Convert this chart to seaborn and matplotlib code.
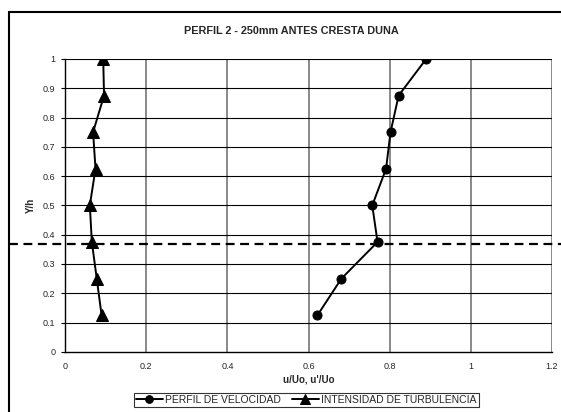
import seaborn as sns
import matplotlib
matplotlib.use('Agg')
import matplotlib.pyplot as plt
import pandas as pd
from matplotlib.patches import Rectangle

# Data
y_h = [1.0, 0.875, 0.75, 0.625, 0.5, 0.375, 0.25, 0.125]
velocidad = [0.89, 0.822, 0.802, 0.791, 0.757, 0.77, 0.681, 0.622]
turbulencia = [0.094, 0.096, 0.069, 0.075, 0.061, 0.066, 0.078, 0.09]
y_ref = 0.367
x_ticks = [0, 0.2, 0.4, 0.6, 0.8, 1, 1.2]
y_ticks = [0, 0.1, 0.2, 0.3, 0.4, 0.5, 0.6, 0.7, 0.8, 0.9, 1]

vel_df = pd.DataFrame({'x': velocidad, 'y': y_h})
tur_df = pd.DataFrame({'x': turbulencia, 'y': y_h})

sns.set_style("white")
plt.rcParams['font.family'] = ['Liberation Sans', 'DejaVu Sans']

fig = plt.figure(figsize=(5.61, 4.12), dpi=100)
ax = fig.add_axes([0.116, 0.146, 0.868, 0.711])

# outer chart frame
fig.patches.append(Rectangle((0.016, -0.05), 1.2, 1.021, transform=fig.transFigure,
                             fill=False, edgecolor='black', linewidth=1.5))

sns.lineplot(data=vel_df, x='x', y='y', sort=False, estimator=None, ax=ax,
             color='black', marker='o', markersize=6.5, linewidth=1.4,
             markeredgecolor='black', label='PERFIL DE VELOCIDAD')
sns.lineplot(data=tur_df, x='x', y='y', sort=False, estimator=None, ax=ax,
             color='black', marker='^', markersize=8, linewidth=1.4,
             markeredgecolor='black', label='INTENSIDAD DE TURBULENCIA')

ax.axhline(y_ref, xmin=-0.115, xmax=1.02, color='black', linestyle=(0, (4, 2.5)),
           linewidth=1.6, clip_on=False, zorder=5)

ax.set_xlim(0, 1.2)
ax.set_ylim(0, 1)
ax.set_xticks(x_ticks)
ax.set_yticks(y_ticks)
ax.set_xticklabels([f'{t:g}' for t in x_ticks], fontsize=6.5)
ax.set_yticklabels([f'{t:g}' for t in y_ticks], fontsize=6.5)
ax.tick_params(axis='y', direction='out', length=3, width=0.8, color='black', pad=4, left=True)
ax.tick_params(axis='x', length=0, pad=7)

# grid: gray verticals, black horizontals
for t in x_ticks[1:]:
    ax.axvline(t, color='#808080', linewidth=1.3, zorder=0)
for t in y_ticks[1:]:
    ax.axhline(t, color='black', linewidth=0.8, zorder=0)

for s in ['top', 'right']:
    ax.spines[s].set_visible(False)
for s in ['left', 'bottom']:
    ax.spines[s].set_color('black')
    ax.spines[s].set_linewidth(1.0)

ax.set_xlabel("u/Uo, u'/Uo", fontsize=7, fontweight='bold', labelpad=3)
ax.set_ylabel("Y/h", fontsize=7, fontweight='bold', labelpad=5)
fig.text(0.519, 0.925, "PERFIL 2 - 250mm ANTES CRESTA DUNA", ha='center', va='center',
         fontsize=7.8, fontweight='bold')

leg = ax.legend(loc='center', bbox_to_anchor=(0.495, -0.164), ncol=2, fontsize=7.5,
                frameon=True, fancybox=False, edgecolor='black', handlelength=2.6,
                columnspacing=1.0, handletextpad=0.25, borderpad=0.2, markerscale=0.85)
leg.get_frame().set_linewidth(0.8)

fig.savefig('out.png', dpi=100, facecolor='white')
